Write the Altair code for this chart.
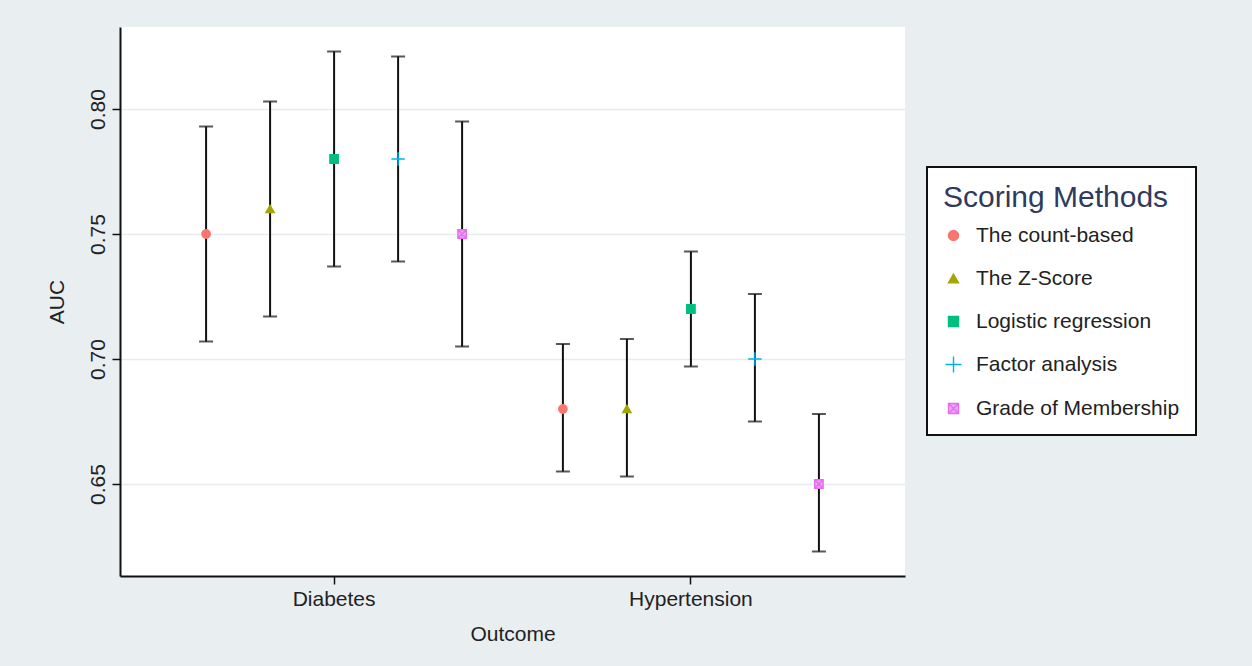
import altair as alt
import pandas as pd

outcomes = ["Diabetes"] * 5 + ["Hypertension"] * 5
method_names = ["The count-based", "The Z-Score", "Logistic regression",
                "Factor analysis", "Grade of Membership"]
methods = method_names * 2
auc = [0.75, 0.76, 0.78, 0.78, 0.75, 0.68, 0.68, 0.72, 0.70, 0.65]
lower = [0.707, 0.717, 0.737, 0.739, 0.705, 0.655, 0.653, 0.697, 0.675, 0.623]
upper = [0.793, 0.803, 0.823, 0.821, 0.795, 0.706, 0.708, 0.743, 0.726, 0.678]

stroke_colors = ["#F8766D", "#A3A500", "#00BF7D", "#00B0F6", "#E76BF3"]
fill_colors = ["#F8766D", "#A3A500", "#00BF7D", "#00B0F6", "#EFA3F6"]
shapes = ["circle", "triangle-up", "square",
          "M-1.6,0H1.6M0,-1.6V1.6",
          "M-1,-1H1V1H-1ZM-1,-1L1,1M-1,1L1,-1"]

df = pd.DataFrame({"Outcome": outcomes, "method": methods, "AUC": auc,
                   "lower": lower, "upper": upper})

FONT = "Liberation Sans"

x_enc = alt.X("Outcome:N", title="Outcome",
              scale=alt.Scale(domain=["Diabetes", "Hypertension"],
                              paddingInner=0, paddingOuter=0.1),
              axis=alt.Axis(labelAngle=0, grid=False))
xo_enc = alt.XOffset("method:N", sort=method_names,
                     scale=alt.Scale(domain=method_names, paddingOuter=0.2875, paddingInner=0))
yscale = alt.Scale(domain=[0.6132, 0.8328], nice=False, zero=False)

base = alt.Chart(df)

bars = base.mark_rule(color="#111111", strokeWidth=2).encode(
    x=x_enc, xOffset=xo_enc,
    y=alt.Y("lower:Q", scale=yscale, title="AUC",
            axis=alt.Axis(values=[0.65, 0.70, 0.75, 0.80], format=".2f")),
    y2="upper:Q",
)

cap_lo = base.mark_tick(color="#111111", thickness=2, size=14).encode(
    x=x_enc, xOffset=xo_enc, y=alt.Y("lower:Q", scale=yscale))
cap_hi = base.mark_tick(color="#111111", thickness=2, size=14).encode(
    x=x_enc, xOffset=xo_enc, y=alt.Y("upper:Q", scale=yscale))

legend_title = "Scoring Methods"
pts = base.mark_point(filled=True, size=70, opacity=1, strokeWidth=1.4).encode(
    x=x_enc, xOffset=xo_enc,
    y=alt.Y("AUC:Q", scale=yscale),
    fill=alt.Fill("method:N", sort=method_names, title=legend_title,
                  scale=alt.Scale(domain=method_names, range=fill_colors)),
    stroke=alt.Stroke("method:N", sort=method_names, title=legend_title,
                      scale=alt.Scale(domain=method_names, range=stroke_colors)),
    shape=alt.Shape("method:N", sort=method_names, title=legend_title,
                    scale=alt.Scale(domain=method_names, range=shapes)),
)

chart = alt.layer(bars, cap_lo, cap_hi, pts).properties(
    width=785, height=549,
    background="#E9EEF1",
    padding={"left": 120, "top": 27, "right": 347, "bottom": 90},
    autosize=alt.AutoSizeParams(type="none"),
).configure_view(
    fill="white", stroke=None
).configure_axis(
    labelFont=FONT, titleFont=FONT, labelFontSize=21, titleFontSize=21,
    labelColor="#222222", titleColor="#222222", titleFontWeight="normal",
    domainColor="#111111", domainWidth=2, tickColor="#111111", tickWidth=1.5,
    tickSize=8, labelPadding=4, gridColor="#E6ECEF", gridWidth=1.5,
).configure_axisY(
    labelAngle=270, titlePadding=20, labelBaseline="bottom", labelAlign="center",
).configure_axisX(
    titlePadding=14,
).configure_legend(
    orient="none", legendX=807, legendY=140,
    strokeColor="#111111", strokeWidth=2, fillColor="white", padding=16,
    titleFont=FONT, titleFontSize=30, titleColor="#2F3A5E", titleFontWeight="normal",
    titlePadding=12, titleLimit=400, labelLimit=400,
    labelFont=FONT, labelFontSize=21, labelColor="#222222",
    rowPadding=21, labelOffset=12, symbolStrokeWidth=1.4,
)

chart.save("out.html", embed_options={"renderer": "svg", "actions": False})
